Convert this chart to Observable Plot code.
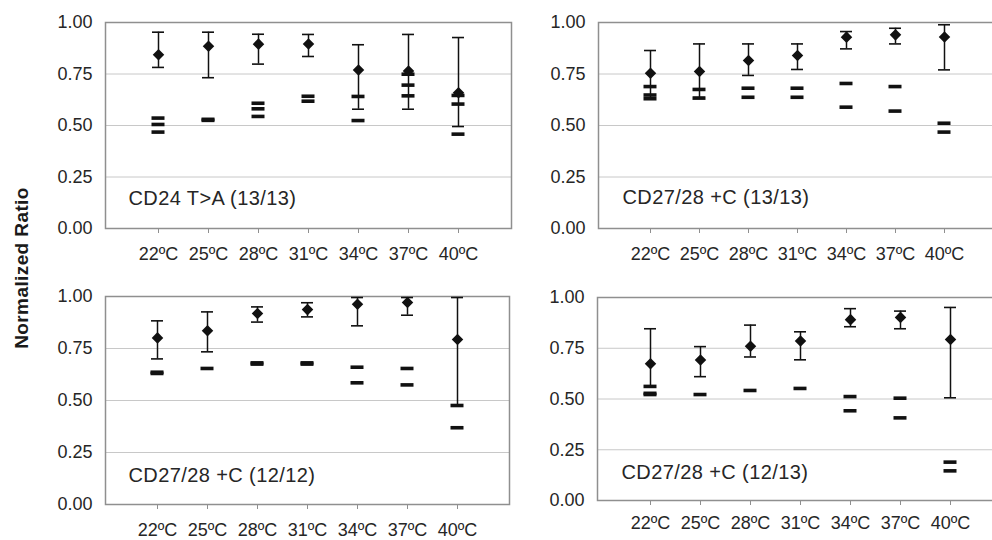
<!DOCTYPE html>
<html><head><meta charset="utf-8">
<script src="https://cdn.jsdelivr.net/npm/d3@7"></script>
<script src="https://cdn.jsdelivr.net/npm/@observablehq/plot@0.6"></script>
<style>
body{margin:0;background:#fff;}
#chart{position:relative;width:992px;height:540px;overflow:hidden;background:#fff;font-family:"Liberation Sans",Arial,sans-serif;}
#ylabel{position:absolute;left:22px;top:268px;transform:translate(-50%,-50%) rotate(-90deg);font-weight:bold;font-size:19px;white-space:nowrap;color:#1a1a1a;letter-spacing:0.4px;}
</style></head><body>
<div id="chart"><div id="ylabel">Normalized Ratio</div></div>
<script>
// Category labels
const temps = ["22ºC", "25ºC", "28ºC", "31ºC", "34ºC", "37ºC", "40ºC"];
const yTicks = [0, 0.25, 0.5, 0.75, 1];
const panelLabels = ["CD24 T>A (13/13)", "CD27/28 +C (13/13)", "CD27/28 +C (12/12)", "CD27/28 +C (12/13)"];

// Panel 1: CD24 T>A (13/13)
const p1Mean = [0.843, 0.885, 0.895, 0.896, 0.769, 0.765, 0.659];
const p1Hi   = [0.953, 0.953, 0.943, 0.942, 0.892, 0.942, 0.927];
const p1Lo   = [0.782, 0.732, 0.798, 0.835, 0.579, 0.579, 0.495];
const p1Dash = [[0.536, 0.505, 0.468], [0.530, 0.525], [0.608, 0.581, 0.544], [0.642, 0.618], [0.641, 0.524], [0.749, 0.696, 0.644], [0.646, 0.604, 0.458]];

// Panel 2: CD27/28 +C (13/13)
const p2Mean = [0.754, 0.762, 0.816, 0.840, 0.929, 0.940, 0.930];
const p2Hi   = [0.864, 0.896, 0.896, 0.896, 0.956, 0.972, 0.989];
const p2Lo   = [0.632, 0.636, 0.743, 0.772, 0.872, 0.896, 0.770];
const p2Dash = [[0.689, 0.648, 0.630], [0.675, 0.633], [0.681, 0.637], [0.681, 0.637], [0.704, 0.589], [0.689, 0.570], [0.511, 0.468]];

// Panel 3: CD27/28 +C (12/12)
const p3Mean = [0.801, 0.835, 0.918, 0.937, 0.963, 0.971, 0.793];
const p3Hi   = [0.883, 0.926, 0.950, 0.970, 0.995, 0.995, 0.995];
const p3Lo   = [0.700, 0.734, 0.877, 0.902, 0.859, 0.910, 0.476];
const p3Dash = [[0.636, 0.630], [0.654], [0.681, 0.675], [0.681, 0.675], [0.660, 0.585], [0.654, 0.575], [0.476, 0.369]];

// Panel 4: CD27/28 +C (12/13)
const p4Mean = [0.674, 0.692, 0.760, 0.786, 0.891, 0.902, 0.793];
const p4Hi   = [0.846, 0.758, 0.864, 0.831, 0.945, 0.933, 0.951];
const p4Lo   = [0.564, 0.610, 0.707, 0.693, 0.856, 0.846, 0.506];
const p4Dash = [[0.562, 0.528, 0.522], [0.522], [0.542], [0.552], [0.512, 0.442], [0.504, 0.407], [0.189, 0.146]];

const panels = [
  {label: panelLabels[0], mean: p1Mean, hi: p1Hi, lo: p1Lo, dash: p1Dash,
   box: {left: 0, top: 0, w: 530, h: 275, ml: 105, mr: 19, mt: 22, mb: 47, tp: 14, tx: 23, ty: -24}},
  {label: panelLabels[1], mean: p2Mean, hi: p2Hi, lo: p2Lo, dash: p2Dash,
   box: {left: 493, top: 0, w: 510, h: 275, ml: 105, mr: 7, mt: 22, mb: 47, tp: 14, tx: 24, ty: -25}},
  {label: panelLabels[2], mean: p3Mean, hi: p3Hi, lo: p3Lo, dash: p3Dash,
   box: {left: 0, top: 274, w: 530, h: 266, ml: 105, mr: 21, mt: 22, mb: 36, tp: 14, tx: 23, ty: -23}},
  {label: panelLabels[3], mean: p4Mean, hi: p4Hi, lo: p4Lo, dash: p4Dash,
   box: {left: 493, top: 274, w: 520, h: 266, ml: 104, mr: 10, mt: 23, mb: 40, tp: 11, tx: 24, ty: -22}}
];

const ink = "#111";
const chart = document.getElementById("chart");

for (const p of panels) {
  const b = p.box;
  const pts = temps.map((t, i) => ({t, mean: p.mean[i], lo: p.lo[i], hi: p.hi[i]}));
  const ds = temps.flatMap((t, i) => p.dash[i].map(v => ({t, v})));
  const svg = Plot.plot({
    width: b.w, height: b.h,
    marginLeft: b.ml, marginRight: b.mr, marginTop: b.mt, marginBottom: b.mb,
    style: {fontFamily: "'Liberation Sans', Arial, sans-serif", fontSize: "18px", color: "#222", background: "transparent", overflow: "visible"},
    x: {type: "point", domain: temps, padding: 1, label: null},
    y: {domain: [0, 1], label: null},
    marks: [
      Plot.gridY(yTicks.slice(1, -1), {stroke: "#c8c8c8", strokeOpacity: 1, strokeWidth: 1}),
      Plot.frame({stroke: "#8f8f8f", strokeWidth: 1.5}),
      Plot.axisY(yTicks, {tickSize: 0, tickPadding: 13, tickFormat: d3.format(".2f"), fontSize: 18, fill: "#262626", label: null}),
      Plot.axisX(temps, {tickSize: 5, tickPadding: b.tp, stroke: "#8f8f8f", fill: "#262626", fontSize: 18, label: null}),
      Plot.ruleX(pts, {x: "t", y1: "lo", y2: "hi", stroke: ink, strokeWidth: 1.5}),
      Plot.ruleY(pts, {x1: "t", x2: "t", y: "lo", insetLeft: -6, insetRight: -6, stroke: ink, strokeWidth: 1.6}),
      Plot.ruleY(pts, {x1: "t", x2: "t", y: "hi", insetLeft: -6, insetRight: -6, stroke: ink, strokeWidth: 1.6}),
      Plot.ruleY(ds, {x1: "t", x2: "t", y: "v", insetLeft: -6.5, insetRight: -6.5, stroke: ink, strokeWidth: 3.6}),
      Plot.dot(pts, {x: "t", y: "mean", symbol: "diamond2", r: 5.2, fill: ink, stroke: "none"}),
      Plot.text([p.label], {frameAnchor: "bottom-left", dx: b.tx, dy: b.ty, textAnchor: "start", fontSize: 20, fill: "#262626", style: "letter-spacing:0.4px"})
    ]
  });
  svg.querySelectorAll("g[aria-label=text] text").forEach(t => t.setAttribute("letter-spacing", "0.4"));
  svg.style.position = "absolute";
  svg.style.left = b.left + "px";
  svg.style.top = b.top + "px";
  chart.appendChild(svg);
}
</script>
</body></html>
